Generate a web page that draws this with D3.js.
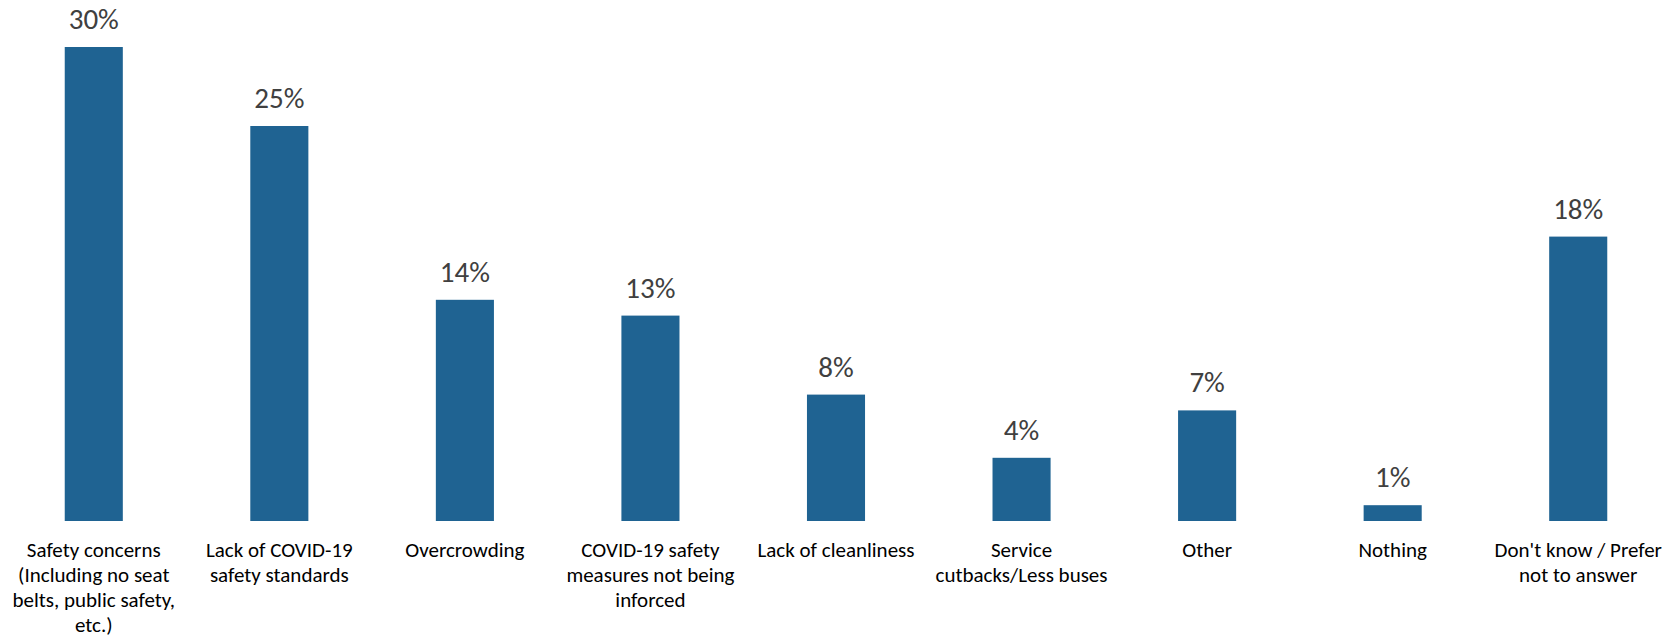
<!DOCTYPE html>
<html>
<head>
<meta charset="utf-8">
<script src="https://cdn.jsdelivr.net/npm/d3@7"></script>
<style>
  body { margin: 0; background: #fff; }
  svg { display: block; font-family: Carlito, Calibri, Lato, sans-serif; }
  .value { fill: #404040; font-size: 29px; }
  .cat { fill: #000; font-size: 21px; }
</style>
</head>
<body>
<svg id="chart" width="1667" height="637"></svg>
<script>
// reasons given, one entry per bar (label lines as wrapped on the axis)
const categories = [
  ["Safety concerns", "(Including no seat", "belts, public safety,", "etc.)"],
  ["Lack of COVID-19", "safety standards"],
  ["Overcrowding"],
  ["COVID-19 safety", "measures not being", "inforced"],
  ["Lack of cleanliness"],
  ["Service", "cutbacks/Less buses"],
  ["Other"],
  ["Nothing"],
  ["Don't know / Prefer", "not to answer"]
];
const values = [30, 25, 14, 13, 8, 4, 7, 1, 18];

const width = 1667, height = 637;
const margin = { left: 1, right: -4, top: 47, bottom: 116 };

const svg = d3.select("#chart");

const x = d3.scaleBand()
  .domain(d3.range(categories.length))
  .range([margin.left, width - margin.right])
  .paddingInner(0.687)
  .paddingOuter(0.3435);

const y = d3.scaleLinear()
  .domain([0, 30])
  .range([height - margin.bottom, margin.top]);

const g = svg.append("g");

g.selectAll(".bar")
  .data(values)
  .enter()
  .append("rect")
  .attr("class", "bar")
  .attr("x", (d, i) => x(i))
  .attr("width", x.bandwidth())
  .attr("y", d => y(d))
  .attr("height", d => y(0) - y(d))
  .attr("fill", "#1f6392");

g.selectAll(".value")
  .data(values)
  .enter()
  .append("text")
  .attr("class", "value")
  .attr("text-anchor", "middle")
  .attr("x", (d, i) => x(i) + x.bandwidth() / 2)
  .attr("y", d => y(d) - 18)
  .text(d => d + "%");

// category labels under each bar
const labels = g.selectAll(".cat")
  .data(categories)
  .enter()
  .append("text")
  .attr("class", "cat")
  .attr("text-anchor", "middle")
  .attr("x", (d, i) => x(i) + x.bandwidth() / 2)
  .attr("y", y(0) + 36);

labels.selectAll("tspan")
  .data((d, i) => d.map(line => ({ line, i })))
  .enter()
  .append("tspan")
  .attr("x", d => x(d.i) + x.bandwidth() / 2)
  .attr("dy", (d, j) => j === 0 ? 0 : 25)
  .text(d => d.line);
</script>
</body>
</html>
